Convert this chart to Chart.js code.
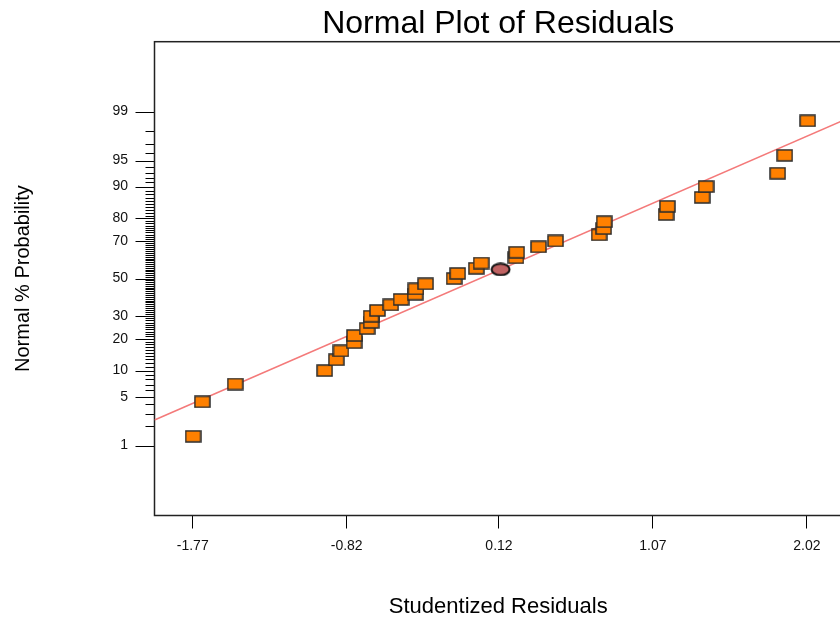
<!DOCTYPE html>
<html>
<head>
<meta charset="utf-8">
<script src="https://cdn.jsdelivr.net/npm/chart.js@4.4.1/dist/chart.umd.min.js"></script>
<style>
  html, body { margin: 0; padding: 0; background: #fff; overflow: hidden; }
  #wrap { width: 840px; height: 624px; overflow: hidden; }
</style>
</head>
<body>
<div id="wrap"><canvas id="chart" width="842" height="624"></canvas></div>
<script>
// studentized residuals (sorted) and their normal % probability
const residuals = [-1.768, -1.711, -1.508, -0.956, -0.884, -0.855, -0.774, -0.772, -0.694, -0.669,
  -0.669, -0.630, -0.548, -0.484, -0.397, -0.393, -0.333, -0.157, -0.135, -0.020,
  0.010, 0.225, 0.229, 0.364, 0.469, 0.738, 0.766, 0.769, 1.151, 1.159,
  1.374, 1.398, 1.840, 1.884, 2.025];
const probs = [1.4, 4.3, 7.1, 10.0, 12.9, 15.7, 18.6, 21.4, 24.3, 27.1,
  30.0, 32.9, 35.7, 38.6, 41.4, 44.3, 47.1, 50.0, 52.9, 55.7,
  58.6, 61.4, 64.3, 67.1, 70.0, 72.9, 75.7, 78.6, 81.4, 84.3,
  87.1, 90.0, 92.9, 95.7, 98.6];

// highlighted point
const markX = [0.13];
const markP = [55.1];

// reference line end points
const fitX = [-2.006, 2.237];
const fitP = [2.44, 98.6];

const xTickVals = [-1.77, -0.82, 0.12, 1.07, 2.02];
const yLabelPcts = [1, 5, 10, 20, 30, 50, 70, 80, 90, 95, 99];
const yTickPcts = Array.from({ length: 99 }, (_, i) => i + 1);

const FONT = "'Liberation Sans', Arial, sans-serif";

// inverse normal cdf (Acklam)
function probit(p) {
  const a = [-3.969683028665376e+01, 2.209460984245205e+02, -2.759285104469687e+02, 1.383577518672690e+02, -3.066479806614716e+01, 2.506628277459239e+00];
  const b = [-5.447609879822406e+01, 1.615858368580409e+02, -1.556989798598866e+02, 6.680131188771972e+01, -1.328068155288572e+01];
  const c = [-7.784894002430293e-03, -3.223964580411365e-01, -2.400758277161838e+00, -2.549732539343734e+00, 4.374664141464968e+00, 2.938163982698783e+00];
  const d = [7.784695709041462e-03, 3.224671290700398e-01, 2.445134137142996e+00, 3.754408661907416e+00];
  const pl = 0.02425;
  let q, r;
  if (p < pl) {
    q = Math.sqrt(-2 * Math.log(p));
    return (((((c[0]*q+c[1])*q+c[2])*q+c[3])*q+c[4])*q+c[5]) / ((((d[0]*q+d[1])*q+d[2])*q+d[3])*q+1);
  }
  if (p > 1 - pl) {
    q = Math.sqrt(-2 * Math.log(1 - p));
    return -(((((c[0]*q+c[1])*q+c[2])*q+c[3])*q+c[4])*q+c[5]) / ((((d[0]*q+d[1])*q+d[2])*q+d[3])*q+1);
  }
  q = p - 0.5; r = q * q;
  return (((((a[0]*r+a[1])*r+a[2])*r+a[3])*r+a[4])*r+a[5])*q / (((((b[0]*r+b[1])*r+b[2])*r+b[3])*r+b[4])*r+1);
}

// marker images
function rectMarker() {
  const c = document.createElement('canvas');
  c.width = 17; c.height = 13;
  const g = c.getContext('2d');
  g.fillStyle = '#FF8000';
  g.fillRect(1, 1, 15, 11);
  g.strokeStyle = '#2b2b2b';
  g.lineWidth = 1.5;
  g.strokeRect(1, 1, 15, 11);
  return c;
}
function ovalMarker() {
  const c = document.createElement('canvas');
  c.width = 21; c.height = 14;
  const g = c.getContext('2d');
  g.beginPath();
  g.ellipse(10.5, 7, 9, 5.8, 0, 0, Math.PI * 2);
  g.fillStyle = '#C06262';
  g.fill();
  g.strokeStyle = '#111';
  g.lineWidth = 2;
  g.stroke();
  return c;
}

const toZ = (xs, ps) => xs.map((x, i) => ({ x: x, y: probit(ps[i] / 100) }));

// frame + probability tick marks on the left axis
const framePlugin = {
  id: 'frame',
  beforeDatasetsDraw(chart) {
    const { ctx, chartArea: a, scales: { y } } = chart;
    ctx.save();
    ctx.strokeStyle = '#000';
    ctx.lineWidth = 1;
    ctx.beginPath();
    yTickPcts.forEach(p => {
      const py = Math.round(y.getPixelForValue(probit(p / 100))) + 0.5;
      const len = yLabelPcts.includes(p) ? 19 : 9;
      ctx.moveTo(a.left - len, py);
      ctx.lineTo(a.left, py);
    });
    ctx.stroke();
    ctx.strokeStyle = '#222';
    ctx.lineWidth = 1.5;
    ctx.strokeRect(a.left, a.top, a.right - a.left, a.bottom - a.top);
    ctx.restore();
  }
};

new Chart(document.getElementById('chart'), {
  type: 'scatter',
  data: {
    datasets: [
      {
        type: 'line',
        data: toZ(fitX, fitP),
        borderColor: '#F47A7A',
        borderWidth: 1.6,
        pointRadius: 0,
        order: 3
      },
      {
        data: toZ(residuals, probs),
        pointStyle: rectMarker(),
        pointRadius: 7,
        order: 2
      },
      {
        data: toZ(markX, markP),
        pointStyle: ovalMarker(),
        pointRadius: 10,
        order: 1
      }
    ]
  },
  options: {
    responsive: false,
    animation: false,
    events: [],
    layout: { padding: 0, autoPadding: false },
    plugins: {
      legend: { display: false },
      tooltip: { enabled: false },
      title: {
        display: true,
        text: 'Normal Plot of Residuals',
        fullSize: false,
        color: '#000',
        font: { family: FONT, size: 32, weight: 'normal', lineHeight: 1.1 },
        padding: { top: 6.5, bottom: 0 }
      }
    },
    scales: {
      x: {
        type: 'linear',
        min: -2.006,
        max: 2.237,
        bounds: 'data',
        afterBuildTicks: s => { s.ticks = xTickVals.map(v => ({ value: v })); },
        afterFit: s => { s.height = 108.5; s.paddingLeft = 0; s.paddingRight = 0; },
        ticks: {
          autoSkip: false,
          maxRotation: 0,
          padding: 9,
          color: '#111',
          font: { family: FONT, size: 14 },
          callback: v => v.toFixed(2)
        },
        grid: { display: true, drawOnChartArea: false, drawTicks: true, tickLength: 13, tickColor: '#000', tickWidth: 1 },
        border: { display: false },
        title: {
          display: true,
          text: 'Studentized Residuals',
          color: '#000',
          font: { family: FONT, size: 22, lineHeight: 1.2 },
          padding: { top: 0, bottom: 4 }
        }
      },
      y: {
        type: 'linear',
        min: -3.3,
        max: 3.3,
        bounds: 'data',
        afterBuildTicks: s => { s.ticks = yTickPcts.map(p => ({ value: probit(p / 100) })); },
        afterFit: s => { s.width = 154.5; s.paddingTop = 0; s.paddingBottom = 0; },
        ticks: {
          autoSkip: false,
          padding: 26.5,
          color: '#111',
          font: { family: FONT, size: 14 },
          callback: (v, i) => yLabelPcts.includes(yTickPcts[i]) ? String(yTickPcts[i]) : ''
        },
        grid: { display: false, drawTicks: false },
        border: { display: false },
        title: {
          display: true,
          text: 'Normal % Probability',
          color: '#000',
          font: { family: FONT, size: 20, lineHeight: 1.2 },
          padding: { top: 11, bottom: 0 }
        }
      }
    }
  },
  plugins: [framePlugin]
});
</script>
</body>
</html>
